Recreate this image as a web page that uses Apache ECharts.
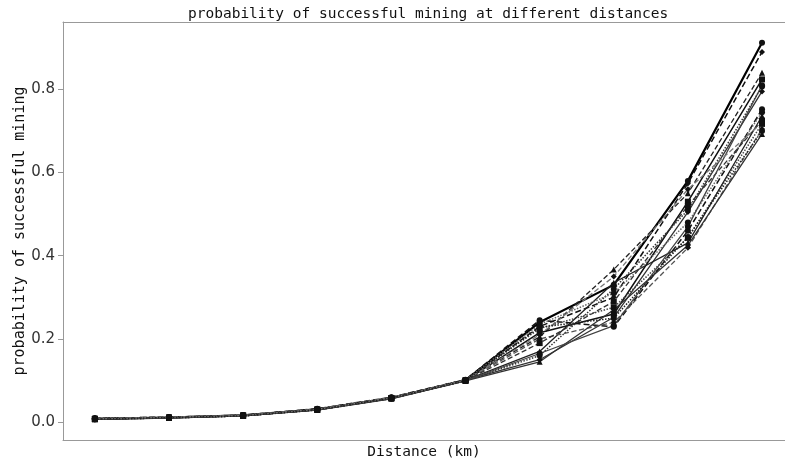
<!DOCTYPE html>
<html>
<head>
<meta charset="utf-8">
<script src="https://cdn.jsdelivr.net/npm/echarts@6/dist/echarts.min.js"></script>
<style>html,body{margin:0;padding:0;background:#fff}#c{width:785px;height:465px}</style>
</head>
<body>
<div id="c"></div>
<script>
// distance steps (x positions, no tick labels shown)
var distanceSteps = [0, 1, 2, 3, 4, 5, 6, 7, 8, 9];
var yTicks = [0, 0.2, 0.4, 0.6, 0.8];

var s01 = [0.008, 0.011, 0.016, 0.031, 0.058, 0.101, 0.240, 0.330, 0.580, 0.912];
var s02 = [0.007, 0.010, 0.015, 0.030, 0.057, 0.100, 0.230, 0.300, 0.574, 0.890];
var s03 = [0.009, 0.012, 0.017, 0.032, 0.059, 0.102, 0.205, 0.367, 0.550, 0.840];
var s04 = [0.008, 0.011, 0.016, 0.030, 0.058, 0.100, 0.215, 0.260, 0.530, 0.824];
var s05 = [0.007, 0.010, 0.015, 0.029, 0.057, 0.099, 0.160, 0.320, 0.510, 0.807];
var s06 = [0.008, 0.011, 0.016, 0.031, 0.058, 0.101, 0.150, 0.252, 0.505, 0.795];
var s07 = [0.009, 0.012, 0.017, 0.032, 0.060, 0.102, 0.245, 0.229, 0.460, 0.752];
var s08 = [0.007, 0.010, 0.015, 0.030, 0.057, 0.100, 0.225, 0.276, 0.443, 0.717];
var s09 = [0.008, 0.011, 0.016, 0.031, 0.058, 0.101, 0.170, 0.335, 0.431, 0.736];
var s10 = [0.008, 0.010, 0.016, 0.030, 0.058, 0.100, 0.200, 0.240, 0.419, 0.705];
var s11 = [0.007, 0.011, 0.015, 0.029, 0.056, 0.099, 0.145, 0.270, 0.425, 0.693];
var s12 = [0.009, 0.012, 0.017, 0.031, 0.059, 0.101, 0.235, 0.310, 0.480, 0.745];
var s13 = [0.008, 0.011, 0.016, 0.030, 0.058, 0.100, 0.190, 0.290, 0.520, 0.725];
var s14 = [0.008, 0.010, 0.016, 0.030, 0.057, 0.100, 0.165, 0.232, 0.470, 0.810];
var s15 = [0.008, 0.012, 0.016, 0.031, 0.059, 0.101, 0.210, 0.350, 0.560, 0.720];
var s16 = [0.007, 0.011, 0.015, 0.030, 0.058, 0.100, 0.228, 0.250, 0.445, 0.700];

var allSeries = [s01, s02, s03, s04, s05, s06, s07, s08, s09, s10, s11, s12, s13, s14, s15, s16];

var styles = [
  {c:'#000', t:'solid', w:2.2, m:'circle'},
  {c:'#111', t:'dashed', w:1.5, m:'diamond'},
  {c:'#222', t:'dashed', w:1.3, m:'triangle'},
  {c:'#111', t:'solid', w:1.5, m:'rect'},
  {c:'#333', t:'dotted', w:1.5, m:'circle'},
  {c:'#333', t:'solid', w:1.3, m:'diamond'},
  {c:'#111', t:'dashed', w:1.5, m:'circle'},
  {c:'#444', t:'dotted', w:1.5, m:'rect'},
  {c:'#222', t:'solid', w:1.3, m:'triangle'},
  {c:'#555', t:'dashed', w:1.3, m:'diamond'},
  {c:'#333', t:'solid', w:1.3, m:'triangle'},
  {c:'#666', t:'dotted', w:1.5, m:'circle'},
  {c:'#333', t:'dashed', w:1.3, m:'rect'},
  {c:'#444', t:'solid', w:1.3, m:'circle'},
  {c:'#777', t:'dashed', w:1.3, m:'diamond'},
  {c:'#222', t:'dotted', w:1.5, m:'circle'}
];

var series = allSeries.map(function (vals, i) {
  var st = styles[i];
  return {
    type: 'line',
    data: distanceSteps.map(function (x, j) { return [x, vals[j]]; }),
    symbol: st.m,
    symbolSize: 6,
    showSymbol: true,
    itemStyle: {color: '#111'},
    lineStyle: {color: st.c, type: st.t, width: st.w},
    animation: false,
    z: 2
  };
});

var axisGray = '#999';
var chart = echarts.init(document.getElementById('c'), null, {renderer: 'canvas'});
chart.setOption({
  backgroundColor: '#fff',
  animation: false,
  title: {
    text: 'probability of successful mining at different distances',
    left: 183, top: 2,
    textStyle: {fontFamily: 'DejaVu Sans Mono', fontSize: 14.5, fontWeight: 'normal', color: '#111'}
  },
  grid: {left: 63, right: 0, top: 22, bottom: 21, show: false, containLabel: false},
  xAxis: [{
    type: 'value', min: -0.43, max: 9.31, position: 'bottom',
    name: 'Distance (km)', nameLocation: 'middle', nameGap: 5, nameMoveOverlap: false,
    nameTextStyle: {fontFamily: 'DejaVu Sans Mono', fontSize: 14.5, color: '#111', verticalAlign: 'top'},
    axisLine: {show: true, onZero: false, lineStyle: {color: axisGray}},
    axisTick: {show: false}, axisLabel: {show: false}, splitLine: {show: false}
  }, {
    type: 'value', min: -0.43, max: 9.31, position: 'top',
    axisLine: {show: true, onZero: false, lineStyle: {color: axisGray}},
    axisTick: {show: false}, axisLabel: {show: false}, splitLine: {show: false}
  }],
  yAxis: {
    type: 'value', min: -0.043, max: 0.962,
    name: 'probability of successful mining', nameLocation: 'middle', nameGap: 35, nameMoveOverlap: false,
    nameTextStyle: {fontFamily: 'DejaVu Sans Mono', fontSize: 15, color: '#111'},
    axisLine: {show: true, onZero: false, lineStyle: {color: axisGray}},
    axisTick: {show: true, length: 5, lineStyle: {color: axisGray}, customValues: yTicks},
    axisLabel: {show: true, margin: 8, fontFamily: 'DejaVu Sans', fontSize: 15, color: '#333',
      customValues: yTicks, formatter: function (v) { return v.toFixed(1); }},
    splitLine: {show: false}
  },
  series: series
});
</script>
</body>
</html>
